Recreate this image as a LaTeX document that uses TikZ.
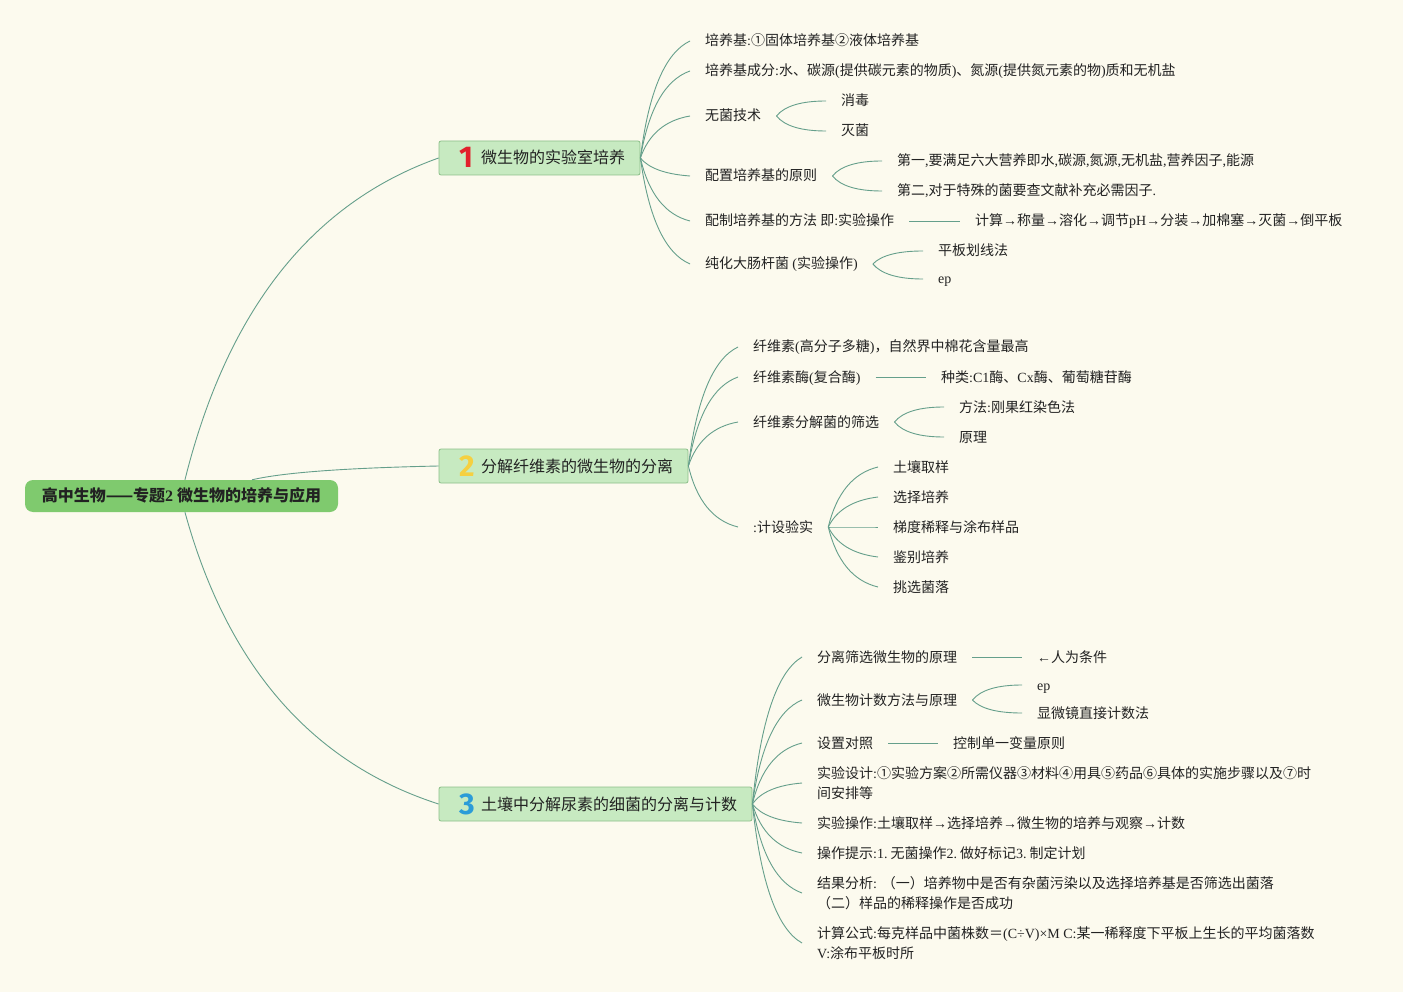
\documentclass[tikz,border=0pt]{standalone}
\usepackage{fontspec}
\setmainfont{Noto Sans CJK SC}
\newfontfamily\cjkfont{Noto Sans CJK SC}
\newfontfamily\latinfont{Liberation Serif}
\newfontfamily\digitfont{Fira Sans}
\usetikzlibrary{calc}
% automatic switch: CJK characters in Noto Sans CJK, Latin in a serif
\newXeTeXintercharclass\mmCJK
\newcount\mmcnt
\def\mmsetrange#1#2{\mmcnt=#1\relax\loop\XeTeXcharclass\mmcnt=\mmCJK\relax\ifnum\mmcnt<#2\relax\advance\mmcnt by 1\relax\repeat}
\mmsetrange{"4E00}{"9FFF}
\mmsetrange{"3000}{"303F}
\mmsetrange{"FF00}{"FFEF}
\mmsetrange{"2460}{"24FF}
\XeTeXcharclass"2014=\mmCJK
\XeTeXinterchartoks 0 \mmCJK = {\cjkfont}
\XeTeXinterchartoks 4095 \mmCJK = {\cjkfont}
\XeTeXinterchartoks \mmCJK 0 = {\latinfont}
\XeTeXinterchartoks 4095 0 = {\latinfont}
\XeTeXinterchartokenstate=1
\definecolor{bg}{HTML}{FCFAEE}
\definecolor{linkc}{HTML}{659F8B}
\definecolor{rootfill}{HTML}{7FCA6E}
\definecolor{brfill}{HTML}{C7EAC1}
\definecolor{brdraw}{HTML}{8CBF89}
\definecolor{txt}{HTML}{222222}
\definecolor{dred}{HTML}{E2202C}
\definecolor{dyel}{HTML}{F5D041}
\definecolor{dblu}{HTML}{2B9CD8}
% quadratic curve, control point at (x1+f*dx, y1+g*dy)
\newcommand\mmcurve[4]{\draw[link] let \p1=(#1), \p2=(#2) in (\p1) .. controls ({\x1+0.6667*#3*(\x2-\x1)},{\y1+0.6667*#4*(\y2-\y1)}) and ({\x2+0.6667*(#3-1)*(\x2-\x1)},{\y2+0.6667*(#4-1)*(\y2-\y1)}) .. (\p2);}
\newcommand\mmbr[4]{\makebox[#1][l]{\hspace*{20pt}\makebox[22pt][l]{{\XeTeXinterchartokenstate=0 \digitfont\bfseries\fontsize{30}{30}\selectfont\color{#2}\raisebox{-4pt}{#3}}}#4}}
\begin{document}
\begin{tikzpicture}[x=1pt,y=-1pt,
  link/.style={draw=linkc, line width=0.9pt},
  rootbox/.style={fill=rootfill, rounded corners=8pt, minimum width=313pt, minimum height=32pt, inner sep=0pt, font=\fontsize{16}{18}\selectfont\bfseries, text=txt, text height=14pt, text depth=2.5pt},
  brbox/.style={fill=brfill, draw=brdraw, line width=0.8pt, rounded corners=2pt, minimum height=34pt, inner sep=0pt, font=\fontsize{16}{18}\selectfont, text=txt, text height=17pt, text depth=5pt},
  base/.style={inner xsep=15pt, inner ysep=0pt, anchor=west, text=txt, font=\fontsize{14}{20}\selectfont},
  leaf/.style={base, text height=12pt, text depth=2pt},
  leafml/.style={base, align=left}]
\fill[bg] (0,0) rectangle (1403,992);
\useasboundingbox (0,0) rectangle (1403,992);

% root and branches
\node[rootbox] (root) at (181.5,496) {高中生物——专题2 微生物的培养与应用};
\node[brbox] (b1) at (539.5,158) {\mmbr{201pt}{dred}{1}{微生物的实验室培养}};
\node[brbox] (b2) at (563.5,466) {\mmbr{249pt}{dyel}{2}{分解纤维素的微生物的分离}};
\node[brbox] (b3) at (595.5,804) {\mmbr{313pt}{dblu}{3}{土壤中分解尿素的细菌的分离与计数}};
\coordinate (r1) at ($(root.north)!0.022!(root.north east)$);
\coordinate (r2) at ($(root.north)!0.45!(root.north east)$);
\coordinate (r3) at ($(root.south)!0.022!(root.south east)$);

% branch 1
\node[leaf] (a1) at (690,41) {培养基:①固体培养基②液体培养基};
\node[leaf] (a2) at (690,71) {培养基成分:水、碳源(提供碳元素的物质)、氮源(提供氮元素的物)质和无机盐};
\node[leaf] (a3) at (690,116) {无菌技术};
\node[leaf] (a3a) at (826,101) {消毒};
\node[leaf] (a3b) at (826,131) {灭菌};
\node[leaf] (a4) at (690,176) {配置培养基的原则};
\node[leaf] (a4a) at (882,161) {第一,要满足六大营养即水,碳源,氮源,无机盐,营养因子,能源};
\node[leaf] (a4b) at (882,191) {第二,对于特殊的菌要查文献补充必需因子.};
\node[leaf] (a5) at (690,221) {配制培养基的方法 即:实验操作};
\node[leaf] (a5a) at (960,221) {计算→称量→溶化→调节pH→分装→加棉塞→灭菌→倒平板};
\node[leaf] (a6) at (690,264) {纯化大肠杆菌 (实验操作)};
\node[leaf] (a6a) at (923,251) {平板划线法};
\node[leaf] (a6b) at (923,279) {ep};

% branch 2
\node[leaf] (c1) at (738,347) {纤维素(高分子多糖)，自然界中棉花含量最高};
\node[leaf] (c2) at (738,377) {纤维素酶(复合酶)};
\node[leaf] (c2a) at (926,377) {种类:C1酶、Cx酶、葡萄糖苷酶};
\node[leaf] (c3) at (738,422) {纤维素分解菌的筛选};
\node[leaf] (c3a) at (944,407) {方法:刚果红染色法};
\node[leaf] (c3b) at (944,437) {原理};
\node[leaf] (c4) at (738,527) {:计设验实};
\node[leaf] (c4a) at (878,467) {土壤取样};
\node[leaf] (c4b) at (878,497) {选择培养};
\node[leaf] (c4c) at (878,527) {梯度稀释与涂布样品};
\node[leaf] (c4d) at (878,557) {鉴别培养};
\node[leaf] (c4e) at (878,587) {挑选菌落};

% branch 3
\node[leaf] (d1) at (802,657) {分离筛选微生物的原理};
\node[leaf] (d1a) at (1022,657) {←人为条件};
\node[leaf] (d2) at (802,700) {微生物计数方法与原理};
\node[leaf] (d2a) at (1022,685) {ep};
\node[leaf] (d2b) at (1022,713) {显微镜直接计数法};
\node[leaf] (d3) at (802,743) {设置对照};
\node[leaf] (d3a) at (938,743) {控制单一变量原则};
\node[leafml] (d4) at (802,783) {实验设计:①实验方案②所需仪器③材料④用具⑤药品⑥具体的实施步骤以及⑦时\\间安排等};
\node[leaf] (d5) at (802,823) {实验操作:土壤取样→选择培养→微生物的培养与观察→计数};
\node[leaf] (d6) at (802,853) {操作提示:1.\hspace{3pt}无菌操作2.\hspace{3pt}做好标记3.\hspace{3pt}制定计划};
\node[leafml] (d7) at (802,893) {结果分析: （一）培养物中是否有杂菌污染以及选择培养基是否筛选出菌落\\（二）样品的稀释操作是否成功};
\node[leafml] (d8) at (802,943) {计算公式:每克样品中菌株数＝(C÷V)×M C:某一稀释度下平板上生长的平均菌落数\\V:涂布平板时所};

% connectors: root
\mmcurve{r1}{b1.west}{0.25}{0.79}
\mmcurve{r2}{b2.west}{0.25}{0.79}
\mmcurve{r3}{b3.west}{0.25}{0.79}

% connectors: branch 1
\foreach \c in {a1,a2,a3,a4,a5,a6} {\mmcurve{b1.east}{\c.west}{0.25}{0.85}}
\mmcurve{a3.east}{a3a.west}{0.25}{1}
\mmcurve{a3.east}{a3b.west}{0.25}{1}
\mmcurve{a4.east}{a4a.west}{0.25}{1}
\mmcurve{a4.east}{a4b.west}{0.25}{1}
\draw[link] (a5.east) -- (a5a.west);
\mmcurve{a6.east}{a6a.west}{0.25}{1}
\mmcurve{a6.east}{a6b.west}{0.25}{1}

% connectors: branch 2
\foreach \c in {c1,c2,c3,c4} {\mmcurve{b2.east}{\c.west}{0.25}{0.85}}
\draw[link] (c2.east) -- (c2a.west);
\mmcurve{c3.east}{c3a.west}{0.25}{1}
\mmcurve{c3.east}{c3b.west}{0.25}{1}
\foreach \c in {c4a,c4b,c4c,c4d,c4e} {\mmcurve{c4.east}{\c.west}{0.25}{0.85}}

% connectors: branch 3
\foreach \c in {d1,d2,d3,d4,d5,d6,d7,d8} {\mmcurve{b3.east}{\c.west}{0.25}{0.85}}
\draw[link] (d1.east) -- (d1a.west);
\mmcurve{d2.east}{d2a.west}{0.25}{1}
\mmcurve{d2.east}{d2b.west}{0.25}{1}
\draw[link] (d3.east) -- (d3a.west);
\end{tikzpicture}
\end{document}
